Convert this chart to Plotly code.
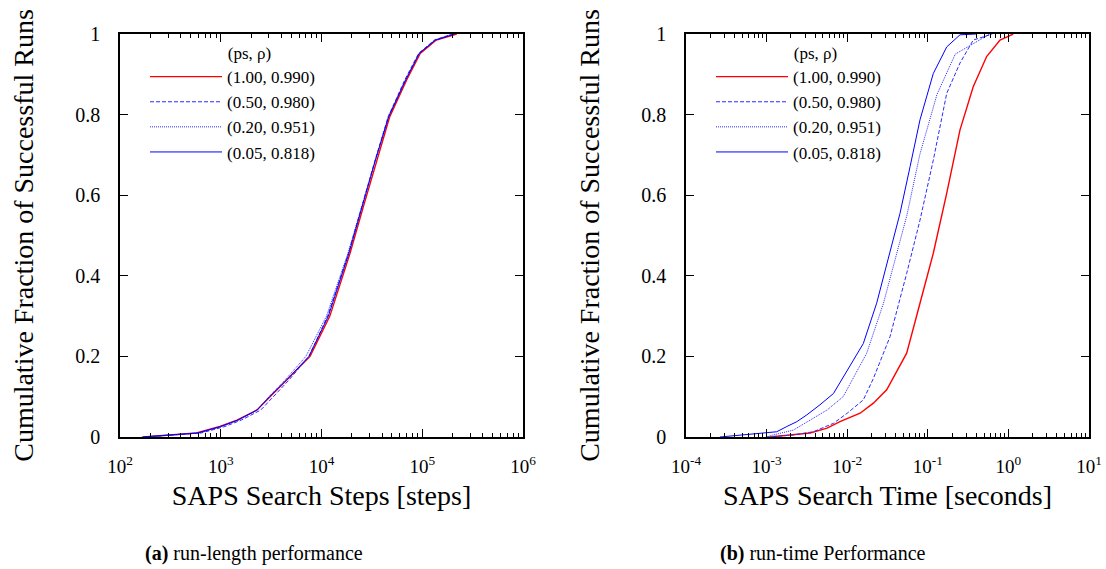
import plotly.graph_objects as go

# ---------------- data ----------------
legend_names = ["(1.00, 0.990)", "(0.50, 0.980)", "(0.20, 0.951)", "(0.05, 0.818)"]

# (a) run-length: SAPS search steps
steps_y = [0, 0.004, 0.01, 0.026, 0.042, 0.067, 0.1, 0.14, 0.2, 0.3, 0.456, 0.571, 0.687, 0.795, 0.886, 0.952, 0.985, 1.0]
steps_x_100 = [170, 300, 575, 980, 1450, 2290, 3090, 4500, 7700, 12100, 19200, 26000, 35300, 47600, 70000, 95500, 138000, 220000]
steps_x_050 = [180, 320, 640, 1100, 1600, 2500, 3300, 4700, 7500, 11500, 18500, 25000, 34000, 46000, 67000, 92000, 132000, 200000]
steps_x_020 = [175, 310, 600, 1000, 1500, 2300, 3000, 4300, 7000, 11200, 18300, 25000, 34000, 46000, 68000, 93000, 133000, 200000]
steps_x_005 = [165, 300, 590, 1000, 1480, 2300, 3050, 4450, 7500, 11700, 18700, 25300, 34300, 46500, 68500, 93500, 135000, 210000]

# (b) run-time: SAPS search time [s]
time_x_100 = [0.0011, 0.00347, 0.00562, 0.00813, 0.01445, 0.02113, 0.0309, 0.0547, 0.08, 0.117, 0.1718, 0.251, 0.366, 0.537, 0.787, 1.148]
time_y_100 = [0, 0.01, 0.022, 0.038, 0.059, 0.084, 0.117, 0.208, 0.332, 0.456, 0.605, 0.762, 0.869, 0.944, 0.985, 1.0]
time_x_050 = [0.001, 0.00214, 0.0038, 0.00676, 0.01, 0.01585, 0.0211, 0.034, 0.0547, 0.08, 0.117, 0.1718, 0.251, 0.366, 0.631]
time_y_050 = [0, 0.005, 0.013, 0.034, 0.059, 0.092, 0.145, 0.249, 0.406, 0.538, 0.687, 0.853, 0.928, 0.985, 1.0]
time_x_020 = [0.001, 0.0012, 0.00214, 0.00347, 0.00562, 0.00891, 0.01746, 0.0282, 0.0411, 0.055, 0.0794, 0.13, 0.219, 0.589]
time_y_020 = [0, 0.005, 0.017, 0.042, 0.067, 0.1, 0.208, 0.332, 0.456, 0.55, 0.7, 0.85, 0.95, 1.0]
time_x_005 = [0.000263, 0.000832, 0.001334, 0.00178, 0.00237, 0.00316, 0.0046, 0.00676, 0.00895, 0.01585, 0.0232, 0.034, 0.0452, 0.0603, 0.08, 0.117, 0.1718, 0.251, 0.398]
time_y_005 = [0, 0.01, 0.013, 0.026, 0.038, 0.055, 0.08, 0.108, 0.15, 0.232, 0.332, 0.456, 0.555, 0.671, 0.787, 0.902, 0.968, 0.998, 1.0]

y_ticks = [0, 0.2, 0.4, 0.6, 0.8, 1]
y_tick_text = ["0", "0.2", "0.4", "0.6", "0.8", "1"]
steps_decades = [2, 3, 4, 5, 6]
time_decades = [-4, -3, -2, -1, 0, 1]

# ---------------- geometry (page body margin removed in post_script) ----------------
W, H = 1106, 569


def px(x):
    return x / W


def py(y):
    return 1 - y / H


FONT = "Liberation Serif"
styles = [
    dict(color="#ff0000", width=1.4, dash="solid"),
    dict(color="#2a2aff", width=1.0, dash="4px,2px"),
    dict(color="#2a2aff", width=1.0, dash="1px,1px"),
    dict(color="#0000ff", width=1.0, dash="solid"),
]

fig = go.Figure()

left_series = [(steps_x_100, steps_y), (steps_x_050, steps_y), (steps_x_020, steps_y), (steps_x_005, steps_y)]
right_series = [(time_x_100, time_y_100), (time_x_050, time_y_050), (time_x_020, time_y_020), (time_x_005, time_y_005)]

for (xs, ys), name, st in zip(left_series, legend_names, styles):
    fig.add_trace(go.Scatter(x=xs, y=ys, mode="lines", name=name, line=st,
                             xaxis="x", yaxis="y", legend="legend"))
for (xs, ys), name, st in zip(right_series, legend_names, styles):
    fig.add_trace(go.Scatter(x=xs, y=ys, mode="lines", name=name, line=st,
                             xaxis="x2", yaxis="y2", legend="legend2"))


def minor_vals(decs):
    vals = []
    for d in decs[:-1]:
        for m in range(2, 10):
            vals.append(m * 10 ** d)
    return vals


def xaxis_cfg(decs, title, domain, anchor):
    return dict(
        type="log", range=[decs[0], decs[-1]], domain=domain, anchor=anchor,
        automargin=False, ticklabeloverflow="allow",
        tickmode="array", tickvals=[10 ** d for d in decs],
        ticktext=["10<sup>%d</sup>" % d for d in decs],
        ticks="inside", ticklen=8, tickwidth=1, tickcolor="black",
        minor=dict(tickmode="array", tickvals=minor_vals(decs), ticks="inside",
                   ticklen=4, tickcolor="black", showgrid=False),
        showline=True, linecolor="black", linewidth=1.5, mirror="ticks",
        showgrid=False, zeroline=False,
        tickfont=dict(family=FONT, size=19, color="black"),
        ticklabelstandoff=11,
        title=dict(text=title, font=dict(family=FONT, size=28, color="black"), standoff=10),
    )


def yaxis_cfg(anchor):
    return dict(
        range=[0, 1], domain=[py(437), py(34)], anchor=anchor,
        automargin=False, ticklabeloverflow="allow",
        tickmode="array", tickvals=y_ticks, ticktext=y_tick_text,
        ticks="inside", ticklen=8, tickcolor="black",
        showline=True, linecolor="black", linewidth=1.5, mirror="ticks",
        showgrid=False, zeroline=False,
        tickfont=dict(family=FONT, size=20, color="black"),
        ticklabelstandoff=14,
        title=dict(text="Cumulative Fraction of Successful Runs",
                   font=dict(family=FONT, size=28, color="black"), standoff=33),
    )


legend_common = dict(
    bgcolor="rgba(0,0,0,0)", borderwidth=0,
    font=dict(family=FONT, size=17, color="black"),
    xanchor="left", yanchor="top", itemwidth=72,
    title=dict(text="\u00a0" * 19 + "(ps, ρ)", font=dict(family=FONT, size=17, color="black")),
)

fig.update_layout(
    width=W, height=H,
    margin=dict(l=0, r=0, t=0, b=0),
    paper_bgcolor="white", plot_bgcolor="white",
    font=dict(family=FONT, color="black"),
    xaxis=xaxis_cfg(steps_decades, "SAPS Search Steps [steps]", [px(120), px(523)], "y"),
    yaxis=yaxis_cfg("x"),
    xaxis2=xaxis_cfg(time_decades, "SAPS Search Time [seconds]", [px(686), px(1089)], "y2"),
    yaxis2=yaxis_cfg("x2"),
    legend=dict(x=px(145), y=py(37), **legend_common),
    legend2=dict(x=px(711), y=py(37), **legend_common),
    annotations=[
        dict(text="<b>(a)</b> run-length performance", xref="paper", yref="paper",
             x=px(143), y=py(553), showarrow=False, xanchor="left", yanchor="middle",
             font=dict(family=FONT, size=20, color="black")),
        dict(text="<b>(b)</b> run-time Performance", xref="paper", yref="paper",
             x=px(718), y=py(553), showarrow=False, xanchor="left", yanchor="middle",
             font=dict(family=FONT, size=20, color="black")),
    ],
)

fig.write_html(
    "out.html",
    config={"displayModeBar": False},
    post_script="document.body.style.margin='0';document.documentElement.style.overflow='hidden';",
)
